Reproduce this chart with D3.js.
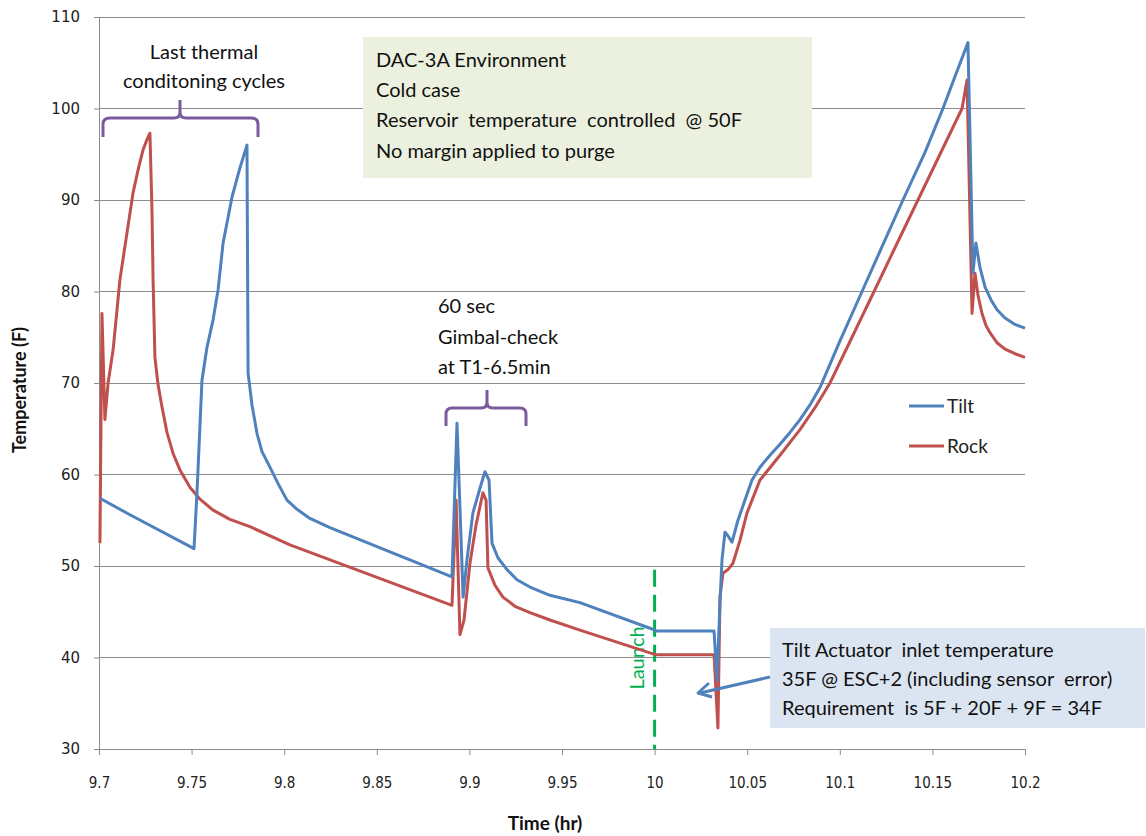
<!DOCTYPE html>
<html><head><meta charset="utf-8">
<script src="https://cdn.jsdelivr.net/npm/d3@7"></script>
<style>body{margin:0;background:#fff;} text{font-family:Lato,"Open Sans",sans-serif;}</style>
</head><body>
<svg id="chart" width="1146" height="836"></svg>
<script>
// ---- data ----
const tiltTime = [9.7005,9.7167,9.7513,9.7529,9.7556,9.7583,9.7616,9.7643,9.7670,9.7718,9.7761,9.7799,9.7805,9.7826,9.7853,9.7880,9.7923,9.7967,9.8015,9.8069,9.8139,9.8247,9.8906,9.8933,9.8966,9.8987,9.9019,9.9057,9.9084,9.9106,9.9122,9.9154,9.9203,9.9257,9.9327,9.9435,9.9597,9.9975,10.0008,10.0321,10.0337,10.0353,10.0364,10.0380,10.0396,10.0418,10.0450,10.0488,10.0526,10.0569,10.0623,10.0677,10.0731,10.0785,10.0839,10.0893,10.1001,10.1120,10.1228,10.1341,10.1460,10.1557,10.1622,10.1692,10.1719,10.1735,10.1757,10.1784,10.1816,10.1849,10.1892,10.1946,10.2];
const tiltTemp = [57.4,55.6,51.9,58.0,70.3,73.9,76.9,80.2,85.3,90.3,93.5,96.0,71.1,67.6,64.5,62.5,60.8,59.0,57.2,56.2,55.2,54.2,48.8,65.6,46.6,50.7,55.8,58.5,60.3,59.4,52.5,50.9,49.6,48.5,47.7,46.8,46.0,43.2,42.9,42.9,37.5,46.0,50.7,53.7,53.3,52.6,55.0,57.2,59.4,60.8,62.1,63.3,64.6,66.0,67.6,69.5,74.6,80.0,84.9,90.0,95.2,100.0,103.5,107.2,82.0,85.3,82.6,80.5,79.1,78.0,77.1,76.4,76.0];
const rockTime = [9.7005,9.7016,9.7032,9.7049,9.7076,9.7092,9.7113,9.7157,9.7184,9.7211,9.7238,9.7259,9.7275,9.7286,9.7292,9.7302,9.7319,9.7340,9.7367,9.7400,9.7437,9.7491,9.7545,9.7616,9.7707,9.7815,9.8031,9.8906,9.8928,9.8949,9.8971,9.9003,9.9036,9.9073,9.9090,9.9100,9.9138,9.9181,9.9246,9.9327,9.9435,9.9597,9.9975,10.0008,10.0321,10.0342,10.0353,10.0369,10.0396,10.0423,10.0461,10.0499,10.0569,10.0677,10.0785,10.0866,10.0947,10.1066,10.1185,10.1303,10.1422,10.1541,10.1660,10.1687,10.1714,10.1730,10.1746,10.1768,10.1789,10.1811,10.1849,10.1892,10.1946,10.2];
const rockTemp = [52.5,77.6,66.0,70.0,73.6,76.9,81.3,87.2,90.8,93.3,95.5,96.6,97.3,88.9,81.3,72.8,69.8,67.4,64.6,62.3,60.5,58.6,57.3,56.1,55.1,54.3,52.3,45.7,57.2,42.5,44.1,50.3,54.5,58.0,57.2,49.8,47.9,46.6,45.6,44.9,44.1,43.0,40.5,40.3,40.3,32.3,46.6,49.2,49.6,50.3,52.8,55.8,59.4,62.1,64.9,67.3,70.0,75.0,80.0,85.0,90.0,95.0,100.0,103.1,77.6,82.0,79.6,77.6,76.3,75.5,74.4,73.7,73.2,72.8];
const xTicks = [9.7,9.75,9.8,9.85,9.9,9.95,10,10.05,10.1,10.15,10.2];
const yTicks = [30,40,50,60,70,80,90,100,110];
const seriesNames = ["Tilt","Rock"];
const launchTime = 10.0;
const noteLines = ["DAC-3A Environment","Cold case","Reservoir  temperature  controlled  @ 50F","No margin applied to purge"];
const calloutLines = ["Tilt Actuator  inlet temperature","35F @ ESC+2 (including sensor  error)","Requirement  is 5F + 20F + 9F = 34F"];
const thermalLines = ["Last thermal","conditoning cycles"];
const gimbalLines = ["60 sec","Gimbal-check","at T1-6.5min"];

// ---- layout ----
const svg = d3.select("#chart");
const L = 99, R = 1025, T = 17, B = 749;
const x = d3.scaleLinear().domain([9.7,10.2]).range([L,R]);
const y = d3.scaleLinear().domain([30,110]).range([B,T]);
const blue = "#4f81bd", red = "#c0504d", grid = "#8c8c8c", purple = "#7a5c9e", green = "#00b050";

// gridlines
svg.append("g").selectAll("line").data(yTicks).join("line")
  .attr("x1",L).attr("x2",R).attr("y1",d=>y(d)).attr("y2",d=>y(d))
  .attr("stroke",grid).attr("stroke-width",1).attr("shape-rendering","crispEdges");

// axes
const xAxis = d3.axisBottom(x).tickValues(xTicks).tickSize(6).tickPadding(22).tickFormat(d=>String(+d.toFixed(2)));
const gx = svg.append("g").attr("transform",`translate(0,${B})`).call(xAxis);
gx.select(".domain").attr("stroke",grid);
gx.selectAll(".tick line").attr("stroke",grid);
gx.selectAll("text").attr("font-size",15).attr("fill","#222").style("font-family","'Liberation Sans Narrow','DejaVu Sans Condensed',sans-serif");
const yAxis = d3.axisLeft(y).tickValues(yTicks).tickSize(5).tickPadding(14);
const gy = svg.append("g").attr("transform",`translate(${L},0)`).call(yAxis);
gy.select(".domain").attr("stroke",grid);
gy.selectAll(".tick line").attr("stroke",grid);
gy.selectAll("text").attr("font-size",15).attr("fill","#222").style("font-family","'DejaVu Sans',sans-serif");

// axis titles
svg.append("text").attr("x",545).attr("y",830).attr("text-anchor","middle")
  .attr("font-size",19).attr("font-weight","bold").attr("fill","#111").text("Time (hr)");
svg.append("text").attr("transform","translate(26,390) rotate(-90)").attr("text-anchor","middle")
  .attr("font-size",18).attr("font-weight","bold").attr("fill","#111").text("Temperature (F)");

// launch line
svg.append("line").attr("x1",x(launchTime)).attr("x2",x(launchTime)).attr("y1",y(49.6)).attr("y2",B)
  .attr("stroke",green).attr("stroke-width",3).attr("stroke-dasharray","17,8");
svg.append("text").attr("transform",`translate(${x(launchTime)-11},658) rotate(-90)`).attr("text-anchor","middle")
  .attr("font-size",20).attr("fill",green).text("Launch");

// lines
const line = d3.line().x(d=>x(d[0])).y(d=>y(d[1]));
const tilt = tiltTime.map((t,i)=>[t,tiltTemp[i]]);
const rock = rockTime.map((t,i)=>[t,rockTemp[i]]);
svg.append("path").datum(rock).attr("d",line).attr("fill","none").attr("stroke",red).attr("stroke-width",3).attr("stroke-linejoin","round");
svg.append("path").datum(tilt).attr("d",line).attr("fill","none").attr("stroke",blue).attr("stroke-width",3).attr("stroke-linejoin","round");

// legend
seriesNames.forEach((n,i)=>{
  const yy = 406 + i*40;
  svg.append("line").attr("x1",909).attr("x2",944).attr("y1",yy).attr("y2",yy).attr("stroke",i?red:blue).attr("stroke-width",3);
  svg.append("text").attr("x",947).attr("y",yy+7).attr("font-size",19).attr("fill","#222").text(n);
});

// note box
svg.append("rect").attr("x",363).attr("y",37).attr("width",449).attr("height",141).attr("fill","#ebf1de");
noteLines.forEach((s,i)=>svg.append("text").attr("x",376).attr("y",67+i*30.2).attr("font-size",20).attr("fill","#111").style("white-space","pre").text(s));

// callout box
svg.append("rect").attr("x",770).attr("y",628).attr("width",375).attr("height",100).attr("fill","#dbe5f1");
calloutLines.forEach((s,i)=>svg.append("text").attr("x",782).attr("y",657+i*29).attr("font-size",20).attr("fill","#111").style("white-space","pre").text(s));
// arrow
svg.append("line").attr("x1",770).attr("y1",677).attr("x2",700).attr("y2",693).attr("stroke",blue).attr("stroke-width",3);
svg.append("path").attr("d","M709,683 L698,693 L712,697").attr("fill","none").attr("stroke",blue).attr("stroke-width",3).attr("stroke-linejoin","round");

// braces
svg.append("path").attr("d","M103,137 L103,124 Q103,118 110,118 L174,118 Q180,118 180,112 L180,100 M180,112 Q180,118 186,118 L251,118 Q258,118 258,124 L258,137")
  .attr("fill","none").attr("stroke",purple).attr("stroke-width",3);
svg.append("path").attr("d","M446,426 L446,414 Q446,408 452,408 L481,408 Q487,408 487,402 L487,390 M487,402 Q487,408 493,408 L520,408 Q526,408 526,414 L526,426")
  .attr("fill","none").attr("stroke",purple).attr("stroke-width",3);

thermalLines.forEach((s,i)=>svg.append("text").attr("x",204).attr("y",59+i*29).attr("text-anchor","middle").attr("font-size",20).attr("fill","#111").text(s));
gimbalLines.forEach((s,i)=>svg.append("text").attr("x",438).attr("y",313+i*30.5).attr("font-size",20).attr("fill","#111").text(s));
</script>
</body></html>
